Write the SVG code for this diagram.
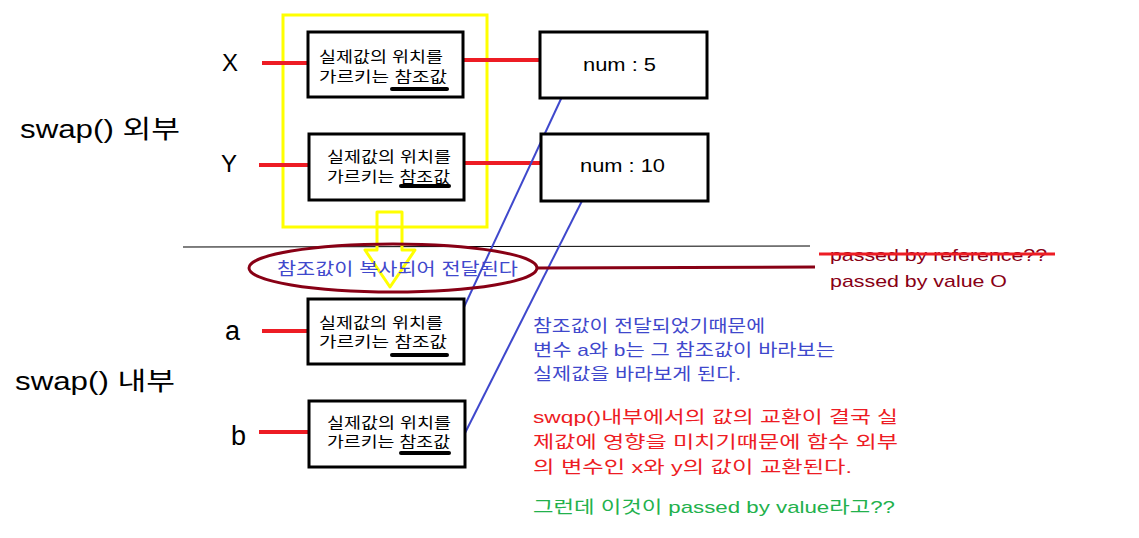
<svg xmlns="http://www.w3.org/2000/svg" width="1139" height="538" viewBox="0 0 1139 538">
<style>
text{font-family:"Liberation Sans","Noto Sans CJK KR",sans-serif;}
.box{fill:#fff;stroke:#000;stroke-width:3;}
.bt{font-size:15px;fill:#000;}
.ul{stroke:#000;stroke-width:4;stroke-linecap:round;}
.red{stroke:#ed1c24;stroke-width:4;fill:none;}
.blue{stroke:#3f48cc;stroke-width:2;fill:none;}
.dred{stroke:#880015;stroke-width:3;fill:none;}
.lbl{font-size:24px;fill:#000;}
.num{font-size:18px;fill:#000;}
.tb{font-size:17px;fill:#3f48cc;}
.tr{font-size:17px;fill:#ed1c24;}
.tg{font-size:17px;fill:#22b14c;}
.td{font-size:17px;fill:#880015;}
</style>
<rect width="1139" height="538" fill="#fff"/>

<!-- section labels -->
<text x="20" y="138" font-size="25" textLength="160" lengthAdjust="spacingAndGlyphs">swap() 외부</text>
<text x="15" y="390" font-size="25" textLength="160" lengthAdjust="spacingAndGlyphs">swap() 내부</text>

<!-- divider -->
<line x1="183" y1="247" x2="810" y2="246" stroke="#000" stroke-width="1"/>

<!-- yellow frame and arrow -->
<rect x="283" y="15" width="204" height="212" fill="none" stroke="#ffff00" stroke-width="3"/>
<polygon points="377,212 402,212 402,250 415,250 390,287 365,250 377,250" fill="none" stroke="#ffff00" stroke-width="3" stroke-linejoin="round"/>

<g id="connectors">
<line class="red" x1="262" y1="63" x2="317" y2="63"/>
<line class="red" x1="454" y1="60" x2="554" y2="60"/>
<line class="red" x1="259" y1="165" x2="321" y2="165"/>
<line class="red" x1="455" y1="163" x2="562" y2="163"/>
<line class="red" x1="262" y1="331" x2="316" y2="331"/>
<line class="red" x1="259" y1="432" x2="321" y2="432"/>
<line class="blue" x1="567" y1="86" x2="451" y2="335"/>
<line class="blue" x1="588" y1="189" x2="462" y2="439"/>
<line class="dred" x1="537" y1="268" x2="815" y2="267"/>
</g>

<g id="label-x"><text class="lbl" x="222" y="71">X</text></g>
<g id="label-y"><text class="lbl" x="221" y="172">Y</text></g>
<g id="label-a"><text x="225" y="340" font-size="27">a</text></g>
<g id="label-b"><text x="231" y="445" font-size="27">b</text></g>

<g id="box-x">
<rect class="box" x="308" y="32" width="155" height="65"/>
<text class="bt" x="319" y="62" textLength="124" lengthAdjust="spacingAndGlyphs">실제값의 위치를</text>
<text class="bt" x="319" y="82" textLength="128" lengthAdjust="spacingAndGlyphs">가르키는 참조값</text>
<line class="ul" x1="392" y1="89" x2="447" y2="89"/>
</g>
<g id="num5">
<rect class="box" x="540" y="32" width="167" height="66"/>
<text class="num" x="583" y="71" textLength="73" lengthAdjust="spacingAndGlyphs">num : 5</text>
</g>

<g id="box-y">
<rect class="box" x="309" y="134" width="155" height="66"/>
<text class="bt" x="327" y="162" textLength="124" lengthAdjust="spacingAndGlyphs">실제값의 위치를</text>
<text class="bt" x="327" y="182" textLength="123" lengthAdjust="spacingAndGlyphs">가르키는 참조값</text>
<line class="ul" x1="401" y1="186" x2="449" y2="186"/>
</g>
<g id="num10">
<rect class="box" x="541" y="134" width="167" height="67"/>
<text class="num" x="580" y="172" textLength="85" lengthAdjust="spacingAndGlyphs">num : 10</text>
</g>

<g id="copy-ellipse">
<ellipse cx="393" cy="268" rx="144" ry="24" fill="none" stroke="#880015" stroke-width="3"/>
<text class="tb" x="277" y="275" textLength="241" lengthAdjust="spacingAndGlyphs">참조값이 복사되어 전달된다</text>
</g>

<g id="box-a">
<rect class="box" x="308" y="299" width="156" height="65"/>
<text class="bt" x="319" y="328" textLength="124" lengthAdjust="spacingAndGlyphs">실제값의 위치를</text>
<text class="bt" x="319" y="347" textLength="128" lengthAdjust="spacingAndGlyphs">가르키는 참조값</text>
<line class="ul" x1="392" y1="355" x2="447" y2="355"/>
</g>
<g id="box-b">
<rect class="box" x="309" y="401" width="156" height="66"/>
<text class="bt" x="327" y="428" textLength="124" lengthAdjust="spacingAndGlyphs">실제값의 위치를</text>
<text class="bt" x="327" y="447" textLength="123" lengthAdjust="spacingAndGlyphs">가르키는 참조값</text>
<line class="ul" x1="401" y1="453" x2="449" y2="453"/>
</g>

<g id="passed-note">
<text class="td" x="830" y="261" textLength="217" lengthAdjust="spacingAndGlyphs">passed by reference??</text>
<line x1="819" y1="254" x2="1055" y2="254" stroke="#ed1c24" stroke-width="3"/>
<text class="td" x="830" y="287" textLength="177" lengthAdjust="spacingAndGlyphs">passed by value O</text>
</g>

<g id="explanation">
<text class="tb" x="533" y="332" textLength="232" lengthAdjust="spacingAndGlyphs">참조값이 전달되었기때문에</text>
<text class="tb" x="533" y="356" textLength="302" lengthAdjust="spacingAndGlyphs">변수 a와 b는 그 참조값이 바라보는</text>
<text class="tb" x="533" y="380" textLength="208" lengthAdjust="spacingAndGlyphs">실제값을 바라보게 된다.</text>
<text class="tr" x="533" y="423" textLength="365" lengthAdjust="spacingAndGlyphs">swqp()내부에서의 값의 교환이 결국 실</text>
<text class="tr" x="533" y="448" textLength="365" lengthAdjust="spacingAndGlyphs">제값에 영향을 미치기때문에 함수 외부</text>
<text class="tr" x="533" y="473" textLength="319" lengthAdjust="spacingAndGlyphs">의 변수인 x와 y의 값이 교환된다.</text>
<text class="tg" x="533" y="513" textLength="362" lengthAdjust="spacingAndGlyphs">그런데 이것이 passed by value라고??</text>
</g>
</svg>
